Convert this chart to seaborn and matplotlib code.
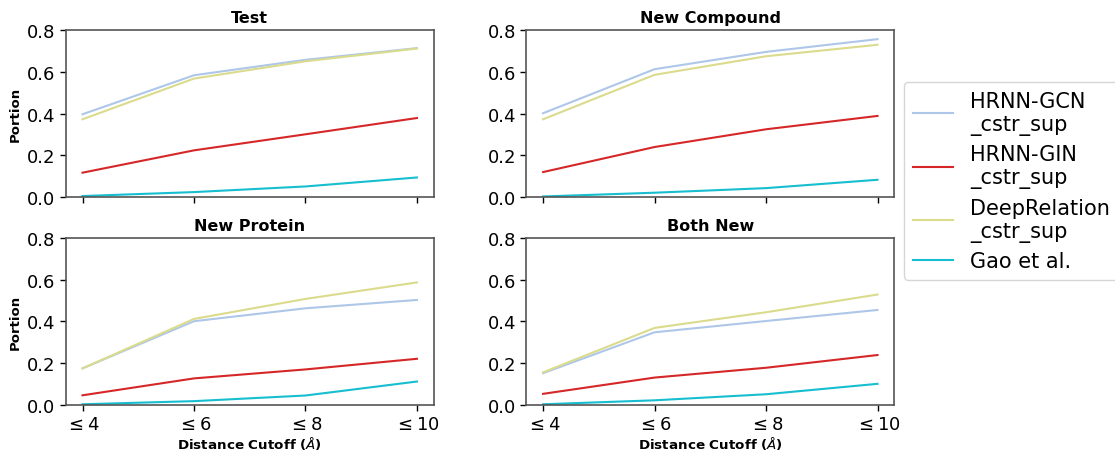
import matplotlib
matplotlib.use("Agg")
import matplotlib.pyplot as plt
import seaborn as sns
import pandas as pd

plt.rcParams['font.family'] = ['DejaVu Sans']
plt.rcParams['mathtext.fontset'] = 'dejavusans'

cutoffs = [4, 6, 8, 10]
cutoff_labels = [r'$\leq 4$', r'$\leq 6$', r'$\leq 8$', r'$\leq 10$']
methods = ["HRNN-GCN\n_cstr_sup", "HRNN-GIN\n_cstr_sup", "DeepRelation\n_cstr_sup", "Gao et al."]
colors = ["#aec7e8", "#d62728", "#dbdb8d", "#17becf"]
panels = ["Test", "New Compound", "New Protein", "Both New"]

test_gcn = [0.397, 0.584, 0.658, 0.714]
test_gin = [0.117, 0.224, 0.301, 0.379]
test_deep = [0.373, 0.568, 0.651, 0.712]
test_gao = [0.005, 0.024, 0.051, 0.094]

comp_gcn = [0.402, 0.613, 0.696, 0.757]
comp_gin = [0.120, 0.240, 0.325, 0.389]
comp_deep = [0.373, 0.586, 0.675, 0.730]
comp_gao = [0.003, 0.021, 0.043, 0.083]

prot_gcn = [0.175, 0.401, 0.463, 0.503]
prot_gin = [0.046, 0.127, 0.170, 0.221]
prot_deep = [0.175, 0.412, 0.508, 0.587]
prot_gao = [0.003, 0.018, 0.045, 0.112]

both_gcn = [0.152, 0.348, 0.402, 0.455]
both_gin = [0.053, 0.131, 0.178, 0.239]
both_deep = [0.156, 0.369, 0.444, 0.529]
both_gao = [0.003, 0.022, 0.051, 0.101]

series = {
    "Test": [test_gcn, test_gin, test_deep, test_gao],
    "New Compound": [comp_gcn, comp_gin, comp_deep, comp_gao],
    "New Protein": [prot_gcn, prot_gin, prot_deep, prot_gao],
    "Both New": [both_gcn, both_gin, both_deep, both_gao],
}

rows = []
for panel in panels:
    for m, vals in zip(methods, series[panel]):
        for c, v in zip(cutoffs, vals):
            rows.append({"panel": panel, "method": m, "cutoff": c, "portion": v})
df = pd.DataFrame(rows)

fig, axes = plt.subplots(2, 2, figsize=(11.15, 4.52), dpi=100, sharex=True)
fig.subplots_adjust(left=0.059, right=0.802, top=0.931, bottom=0.102, wspace=0.252, hspace=0.245)

palette = dict(zip(methods, colors))
for ax, panel in zip(axes.flat, panels):
    sub = df[df["panel"] == panel]
    sns.lineplot(data=sub, x="cutoff", y="portion", hue="method", hue_order=methods,
                 palette=palette, ax=ax, linewidth=1.5, legend=False)
    ax.set_ylim(0, 0.8)
    ax.set_yticks([0.0, 0.2, 0.4, 0.6, 0.8])
    ax.set_xticks(cutoffs)
    ax.set_xticklabels(cutoff_labels)
    ax.set_title(panel, fontsize=11.5, fontweight="bold")
    ax.tick_params(labelsize=13, color="black", length=4.5, width=1.0, pad=3)
    for s in ax.spines.values():
        s.set_color("#555555")
        s.set_linewidth(1.2)
    ax.set_xlabel("")
    ax.set_ylabel("")

for ax in axes[:, 0]:
    ax.set_ylabel("Portion", fontsize=9.5, fontweight="bold", labelpad=4)
for ax in axes[1, :]:
    ax.set_xlabel(r"Distance Cutoff ($\AA$)", fontsize=9.7, fontweight="bold", labelpad=0.5)

handles = [plt.Line2D([], [], color=c, linewidth=1.5) for c in colors]
fig.legend(handles, methods, loc="upper left", bbox_to_anchor=(0.811, 0.816),
           borderaxespad=0, fontsize=15, frameon=True, labelspacing=0.45,
           handlelength=1.95, handletextpad=0.8)

fig.savefig("out.png", dpi=100)
